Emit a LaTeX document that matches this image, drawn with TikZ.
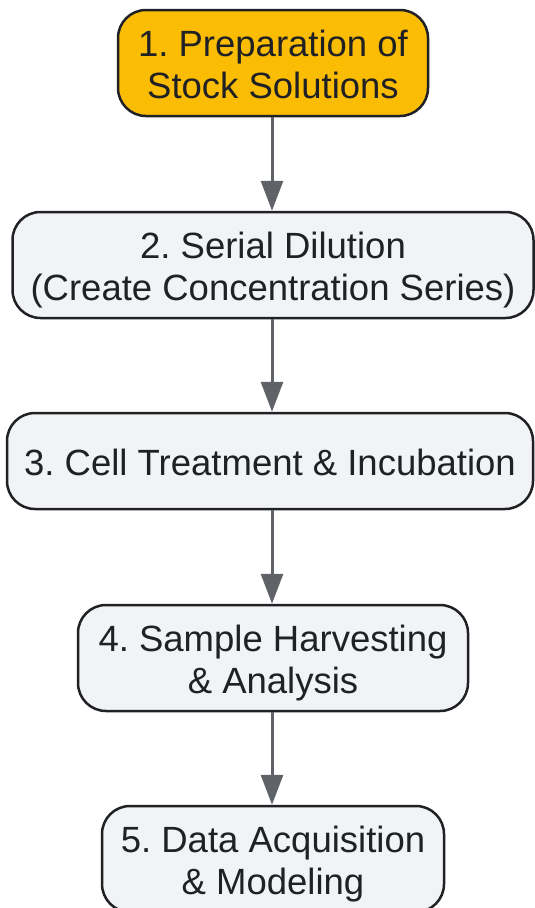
\documentclass[tikz,border=0pt]{standalone}
\usepackage{fontspec}
\setmainfont{Liberation Sans}
\usetikzlibrary{arrows.meta}
\definecolor{boxfill}{HTML}{F1F3F4}
\definecolor{startfill}{HTML}{FBBC04}
\definecolor{edgecol}{HTML}{202124}
\definecolor{arrowcol}{HTML}{5F6368}
\frenchspacing
\newcommand{\steptext}[1]{\raisebox{-6pt}[\height][\depth]{\begin{tabular}{@{}c@{}}#1\end{tabular}}}
\begin{document}
\begin{tikzpicture}[x=1pt,y=1pt,
  stepbox/.style={draw=edgecol, line width=2.5pt, fill=boxfill, rounded corners=28pt,
    inner sep=0pt, text=edgecol,
    font=\fontsize{36.5}{42}\selectfont},
  flow/.style={draw=arrowcol, line width=3pt, -{Triangle[length=30pt,width=22pt]}}]
\useasboundingbox (0,0) rectangle (535,-908);
\fill[white] (0,0) rectangle (535,-908);
\node[stepbox, fill=startfill, minimum width=310pt, minimum height=106pt] (s1) at (273,-63)
  {\steptext{1. Preparation of\\Stock Solutions}};
\node[stepbox, minimum width=521pt, minimum height=106pt] (s2) at (273,-265)
  {\steptext{2. Serial Dilution\\(Create Concentration Series)}};
\node[stepbox, minimum width=526pt, minimum height=96pt] (s3) at (270,-461)
  {\steptext{3. Cell Treatment \& Incubation}};
\node[stepbox, minimum width=390pt, minimum height=106pt] (s4) at (273,-658)
  {\steptext{4. Sample Harvesting\\\& Analysis}};
\node[stepbox, minimum width=342pt, minimum height=106pt] (s5) at (273,-859)
  {\steptext{5. Data Acquisition\\\& Modeling}};
\draw[flow] (s1.south -| 272,0) -- (s2.north -| 272,0);
\draw[flow] (s2.south -| 272,0) -- (s3.north -| 272,0);
\draw[flow] (s3.south -| 272,0) -- (s4.north -| 272,0);
\draw[flow] (s4.south -| 272,0) -- (s5.north -| 272,0);
\end{tikzpicture}
\end{document}
